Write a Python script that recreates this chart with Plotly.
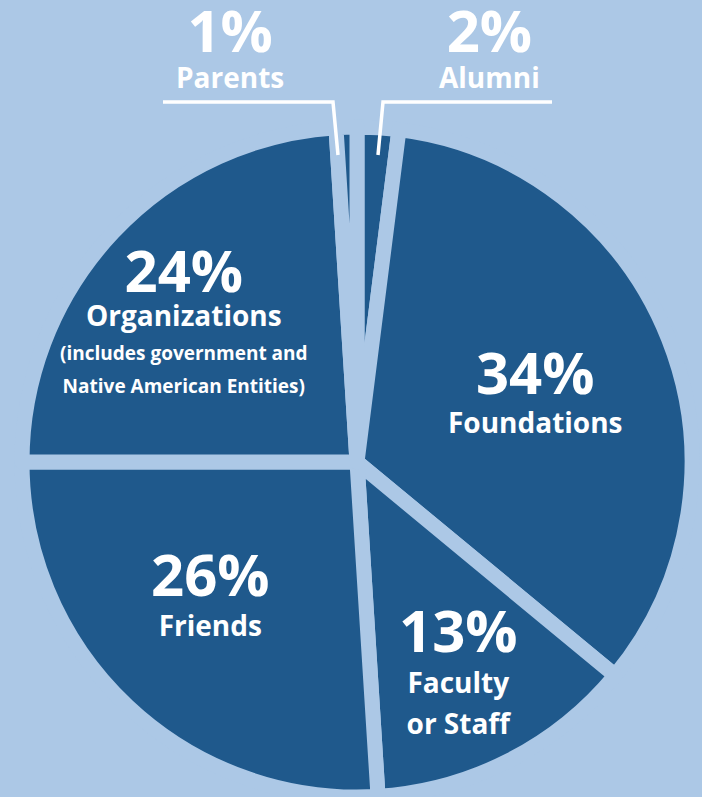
import plotly.graph_objects as go

# ---- data ----
labels = ["Alumni", "Foundations", "Faculty or Staff", "Friends", "Organizations", "Parents"]
values = [2, 34, 13, 26, 24, 1]
label_lines = {
    "Alumni": ["Alumni"],
    "Foundations": ["Foundations"],
    "Faculty or Staff": ["Faculty", "or Staff"],
    "Friends": ["Friends"],
    "Organizations": ["Organizations"],
    "Parents": ["Parents"],
}
notes = {"Organizations": ["(includes government and", "Native American Entities)"]}

W, H = 702, 797
BG = "#acc8e6"
SLICE = "#1f598c"
FONT = "Open Sans"

fig = go.Figure(go.Pie(
    labels=labels,
    values=values,
    sort=False,
    direction="clockwise",
    rotation=0,
    textinfo="none",
    hoverinfo="label+percent",
    marker=dict(colors=[SLICE] * len(labels), line=dict(color=BG, width=15)),
    domain=dict(x=[(357 - 335) / W, (357 + 335) / W], y=[0, 670 / H]),
    showlegend=False,
))

def px(x, y):
    return x / W, 1 - y / H

# layout: (centre x, bottom y of text block, base font size for line spacing)
pos = {
    "Alumni": (489, 97, 28),
    "Foundations": (535, 442, 30),
    "Faculty or Staff": (458, 743, 31.5),
    "Friends": (210, 645, 31),
    "Organizations": (184, 400, 26),
    "Parents": (230, 97, 28),
}

annotations = []
for lab, val in zip(labels, values):
    cx, by, base = pos[lab]
    parts = [f"<span style='font-size:58px'>{val}%</span>"]
    parts += [f"<span style='font-size:28px'>{t}</span>" for t in label_lines[lab]]
    parts += [f"<span style='font-size:19px'>{t}</span>" for t in notes.get(lab, [])]
    x, y = px(cx, by)
    annotations.append(dict(
        x=x, y=y, xref="paper", yref="paper", showarrow=False,
        text="<br>".join(parts), xanchor="center", yanchor="bottom",
        align="center", borderpad=0,
        font=dict(family=FONT, size=base, color="white", weight="bold"),
    ))

def path(points):
    pts = [px(a, b) for a, b in points]
    return "M " + " L ".join(f"{a},{b}" for a, b in pts)

shapes = [
    dict(type="path", xref="paper", yref="paper",
         path=path([(163, 102), (333, 102), (338, 155)]),
         line=dict(color="white", width=3.5)),
    dict(type="path", xref="paper", yref="paper",
         path=path([(552, 102), (383, 102), (378, 155)]),
         line=dict(color="white", width=3.5)),
]

fig.update_layout(
    width=W, height=H,
    margin=dict(l=0, r=0, t=0, b=0),
    paper_bgcolor=BG, plot_bgcolor=BG,
    annotations=annotations, shapes=shapes,
)

fig.write_html("out.html", config={"displayModeBar": False},
               post_script="document.body.style.margin='0px';")
